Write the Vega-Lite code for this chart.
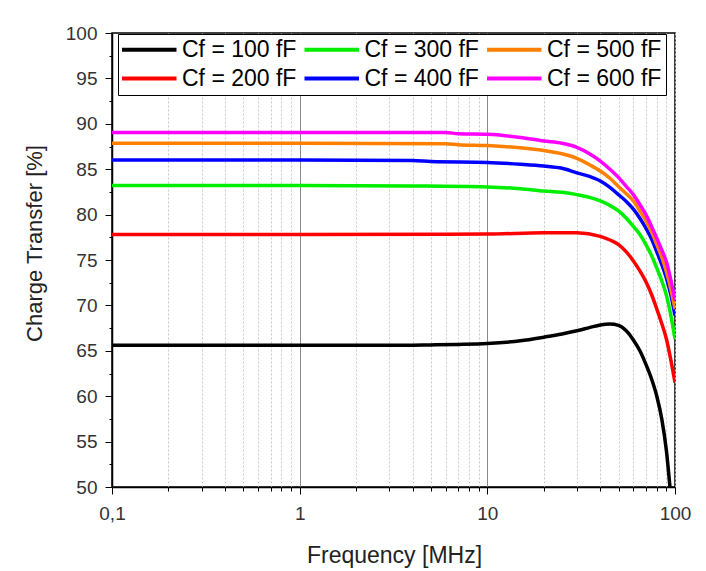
{
  "$schema": "https://vega.github.io/schema/vega-lite/v6.json",
  "width": 563,
  "height": 454,
  "autosize": {"type": "none"},
  "padding": {"left": 112, "top": 33, "right": 31, "bottom": 84},
  "background": "white",
  "config": {"view": {"stroke": "black", "strokeWidth": 1.5}, "font": "Liberation Sans"},
  "data": {"values": [
    {"s":"Cf = 100 fF","f":0.1,"ct":65.6},{"s":"Cf = 100 fF","f":1,"ct":65.6},{"s":"Cf = 100 fF","f":3,"ct":65.6},{"s":"Cf = 100 fF","f":5,"ct":65.65},{"s":"Cf = 100 fF","f":7,"ct":65.7},{"s":"Cf = 100 fF","f":10,"ct":65.8},{"s":"Cf = 100 fF","f":15,"ct":66.1},{"s":"Cf = 100 fF","f":20,"ct":66.5},{"s":"Cf = 100 fF","f":25,"ct":66.85},{"s":"Cf = 100 fF","f":30,"ct":67.2},{"s":"Cf = 100 fF","f":35,"ct":67.55},{"s":"Cf = 100 fF","f":40,"ct":67.85},{"s":"Cf = 100 fF","f":45,"ct":67.95},{"s":"Cf = 100 fF","f":50,"ct":67.8},{"s":"Cf = 100 fF","f":55,"ct":67.2},{"s":"Cf = 100 fF","f":60,"ct":66.2},{"s":"Cf = 100 fF","f":65,"ct":65.0},{"s":"Cf = 100 fF","f":70,"ct":63.5},{"s":"Cf = 100 fF","f":75,"ct":61.9},{"s":"Cf = 100 fF","f":80,"ct":60.0},{"s":"Cf = 100 fF","f":85,"ct":57.5},{"s":"Cf = 100 fF","f":90,"ct":54.0},{"s":"Cf = 100 fF","f":94,"ct":50.0},
    {"s":"Cf = 200 fF","f":0.1,"ct":77.8},{"s":"Cf = 200 fF","f":1,"ct":77.8},{"s":"Cf = 200 fF","f":10,"ct":77.85},{"s":"Cf = 200 fF","f":20,"ct":78.0},{"s":"Cf = 200 fF","f":30,"ct":78.0},{"s":"Cf = 200 fF","f":40,"ct":77.6},{"s":"Cf = 200 fF","f":45,"ct":77.2},{"s":"Cf = 200 fF","f":50,"ct":76.7},{"s":"Cf = 200 fF","f":55,"ct":75.9},{"s":"Cf = 200 fF","f":60,"ct":74.9},{"s":"Cf = 200 fF","f":65,"ct":73.8},{"s":"Cf = 200 fF","f":70,"ct":72.6},{"s":"Cf = 200 fF","f":75,"ct":71.2},{"s":"Cf = 200 fF","f":80,"ct":69.6},{"s":"Cf = 200 fF","f":85,"ct":68.0},{"s":"Cf = 200 fF","f":90,"ct":66.3},{"s":"Cf = 200 fF","f":95,"ct":64.0},{"s":"Cf = 200 fF","f":100,"ct":61.5},
    {"s":"Cf = 300 fF","f":0.1,"ct":83.2},{"s":"Cf = 300 fF","f":1,"ct":83.2},{"s":"Cf = 300 fF","f":4,"ct":83.15},{"s":"Cf = 300 fF","f":10,"ct":83.05},{"s":"Cf = 300 fF","f":15,"ct":82.85},{"s":"Cf = 300 fF","f":20,"ct":82.6},{"s":"Cf = 300 fF","f":25,"ct":82.45},{"s":"Cf = 300 fF","f":30,"ct":82.2},{"s":"Cf = 300 fF","f":35,"ct":81.9},{"s":"Cf = 300 fF","f":40,"ct":81.5},{"s":"Cf = 300 fF","f":45,"ct":81.0},{"s":"Cf = 300 fF","f":50,"ct":80.4},{"s":"Cf = 300 fF","f":55,"ct":79.6},{"s":"Cf = 300 fF","f":60,"ct":78.7},{"s":"Cf = 300 fF","f":65,"ct":77.8},{"s":"Cf = 300 fF","f":70,"ct":76.7},{"s":"Cf = 300 fF","f":75,"ct":75.5},{"s":"Cf = 300 fF","f":80,"ct":74.1},{"s":"Cf = 300 fF","f":85,"ct":72.7},{"s":"Cf = 300 fF","f":90,"ct":71.1},{"s":"Cf = 300 fF","f":95,"ct":68.9},{"s":"Cf = 300 fF","f":100,"ct":66.3},
    {"s":"Cf = 400 fF","f":0.1,"ct":86.0},{"s":"Cf = 400 fF","f":1,"ct":86.0},{"s":"Cf = 400 fF","f":4,"ct":85.95},{"s":"Cf = 400 fF","f":5,"ct":85.85},{"s":"Cf = 400 fF","f":10,"ct":85.75},{"s":"Cf = 400 fF","f":15,"ct":85.55},{"s":"Cf = 400 fF","f":20,"ct":85.35},{"s":"Cf = 400 fF","f":25,"ct":85.1},{"s":"Cf = 400 fF","f":30,"ct":84.6},{"s":"Cf = 400 fF","f":35,"ct":84.2},{"s":"Cf = 400 fF","f":40,"ct":83.7},{"s":"Cf = 400 fF","f":45,"ct":83.0},{"s":"Cf = 400 fF","f":50,"ct":82.2},{"s":"Cf = 400 fF","f":55,"ct":81.45},{"s":"Cf = 400 fF","f":60,"ct":80.6},{"s":"Cf = 400 fF","f":65,"ct":79.6},{"s":"Cf = 400 fF","f":70,"ct":78.5},{"s":"Cf = 400 fF","f":75,"ct":77.3},{"s":"Cf = 400 fF","f":80,"ct":75.9},{"s":"Cf = 400 fF","f":85,"ct":74.5},{"s":"Cf = 400 fF","f":90,"ct":73.0},{"s":"Cf = 400 fF","f":95,"ct":71.2},{"s":"Cf = 400 fF","f":100,"ct":68.9},
    {"s":"Cf = 500 fF","f":0.1,"ct":87.85},{"s":"Cf = 500 fF","f":1,"ct":87.85},{"s":"Cf = 500 fF","f":6,"ct":87.8},{"s":"Cf = 500 fF","f":7,"ct":87.7},{"s":"Cf = 500 fF","f":10,"ct":87.6},{"s":"Cf = 500 fF","f":15,"ct":87.35},{"s":"Cf = 500 fF","f":20,"ct":87.05},{"s":"Cf = 500 fF","f":25,"ct":86.7},{"s":"Cf = 500 fF","f":30,"ct":86.2},{"s":"Cf = 500 fF","f":35,"ct":85.5},{"s":"Cf = 500 fF","f":40,"ct":84.8},{"s":"Cf = 500 fF","f":45,"ct":84.0},{"s":"Cf = 500 fF","f":50,"ct":83.1},{"s":"Cf = 500 fF","f":55,"ct":82.3},{"s":"Cf = 500 fF","f":60,"ct":81.5},{"s":"Cf = 500 fF","f":65,"ct":80.4},{"s":"Cf = 500 fF","f":70,"ct":79.3},{"s":"Cf = 500 fF","f":75,"ct":78.1},{"s":"Cf = 500 fF","f":80,"ct":76.7},{"s":"Cf = 500 fF","f":85,"ct":75.3},{"s":"Cf = 500 fF","f":90,"ct":73.7},{"s":"Cf = 500 fF","f":95,"ct":71.8},{"s":"Cf = 500 fF","f":100,"ct":69.6},
    {"s":"Cf = 600 fF","f":0.1,"ct":89.05},{"s":"Cf = 600 fF","f":1,"ct":89.05},{"s":"Cf = 600 fF","f":6,"ct":89.05},{"s":"Cf = 600 fF","f":7,"ct":88.9},{"s":"Cf = 600 fF","f":10,"ct":88.85},{"s":"Cf = 600 fF","f":15,"ct":88.5},{"s":"Cf = 600 fF","f":20,"ct":88.1},{"s":"Cf = 600 fF","f":25,"ct":87.85},{"s":"Cf = 600 fF","f":30,"ct":87.4},{"s":"Cf = 600 fF","f":35,"ct":86.7},{"s":"Cf = 600 fF","f":40,"ct":85.9},{"s":"Cf = 600 fF","f":45,"ct":85.0},{"s":"Cf = 600 fF","f":50,"ct":84.1},{"s":"Cf = 600 fF","f":55,"ct":83.1},{"s":"Cf = 600 fF","f":60,"ct":82.2},{"s":"Cf = 600 fF","f":65,"ct":81.1},{"s":"Cf = 600 fF","f":70,"ct":80.0},{"s":"Cf = 600 fF","f":75,"ct":78.7},{"s":"Cf = 600 fF","f":80,"ct":77.4},{"s":"Cf = 600 fF","f":85,"ct":76.1},{"s":"Cf = 600 fF","f":90,"ct":74.8},{"s":"Cf = 600 fF","f":95,"ct":72.8},{"s":"Cf = 600 fF","f":100,"ct":70.5}
  ]},
  "mark": {"type": "line", "strokeWidth": 3.5, "interpolate": "monotone", "clip": true},
  "encoding": {
    "x": {
      "field": "f", "type": "quantitative",
      "scale": {"type": "log", "domain": [0.1, 100]},
      "axis": {
        "values": [0.1,0.2,0.3,0.4,0.5,0.6,0.7,0.8,0.9,1,2,3,4,5,6,7,8,9,10,20,30,40,50,60,70,80,90,100],
        "title": "Frequency [MHz]", "titleFontSize": 23, "titleFontWeight": "normal", "titleColor": "#222",
        "titleX": 282, "titleY": 75, "titleBaseline": "alphabetic", "titleAlign": "center",
        "labelFontSize": 19, "labelColor": "#333", "labelPadding": 10, "labelFlush": false,
        "labelExpr": "datum.value == 0.1 ? '0,1' : datum.value == 1 ? '1' : datum.value == 10 ? '10' : datum.value == 100 ? '100' : ''",
        "domainColor": "black", "domainWidth": 1.5,
        "tickColor": "black", "tickWidth": 1,
        "tickSize": {"condition": {"test": "datum.value == 0.1 || datum.value == 1 || datum.value == 10 || datum.value == 100", "value": 7}, "value": 4},
        "grid": true,
        "gridColor": {"condition": {"test": "datum.value == 1 || datum.value == 10", "value": "#8a8a8a"}, "value": "#c8c8c8"},
        "gridDash": {"condition": {"test": "datum.value == 1 || datum.value == 10", "value": []}, "value": [2, 2]},
        "gridWidth": 1
      }
    },
    "y": {
      "field": "ct", "type": "quantitative",
      "scale": {"domain": [50, 100]},
      "axis": {
        "values": [50,52.5,55,57.5,60,62.5,65,67.5,70,72.5,75,77.5,80,82.5,85,87.5,90,92.5,95,97.5,100],
        "title": "Charge Transfer [%]", "titleFontSize": 22, "titleFontWeight": "normal", "titleColor": "#222",
        "titleX": -71, "titleY": 210, "titleBaseline": "alphabetic", "titleAlign": "center", "titleAngle": -90,
        "labelFontSize": 19, "labelColor": "#333", "labelPadding": 8, "labelFlush": false,
        "labelExpr": "datum.value % 5 == 0 ? datum.label : ''",
        "domainColor": "black", "domainWidth": 1.5,
        "tickColor": "black", "tickWidth": 1,
        "tickSize": {"condition": {"test": "datum.value % 5 == 0", "value": 7}, "value": 3},
        "grid": false
      }
    },
    "color": {
      "field": "s", "type": "nominal",
      "scale": {
        "domain": ["Cf = 100 fF","Cf = 300 fF","Cf = 500 fF","Cf = 200 fF","Cf = 400 fF","Cf = 600 fF"],
        "range": ["#000000","#00ee00","#ff8000","#ff0000","#0000ff","#ff00ff"]
      },
      "legend": {
        "orient": "none", "legendX": 6, "legendY": 1, "direction": "horizontal", "columns": 3,
        "title": null, "fillColor": "white", "strokeColor": "black", "padding": 4,
        "symbolType": "M-1.278,0H4.778", "symbolSize": 324, "symbolStrokeWidth": 4,
        "labelFontSize": 23, "labelColor": "black", "labelOffset": 37, "columnPadding": -1.5, "rowPadding": 5, "labelLimit": 250
      }
    }
  }
}
